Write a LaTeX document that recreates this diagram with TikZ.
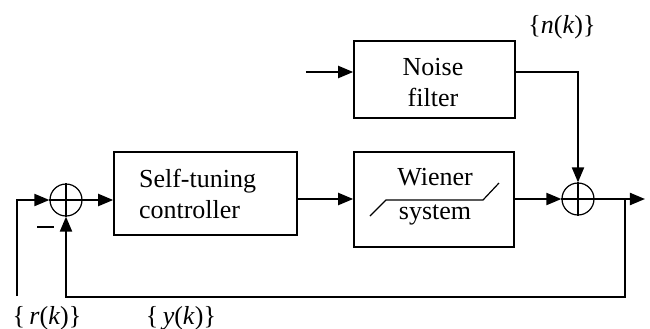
\documentclass[tikz,border=0pt]{standalone}
\usepackage{fontspec}
\setmainfont{Liberation Serif}
\usetikzlibrary{arrows.meta,positioning}

\begin{document}
\begin{tikzpicture}[x=0.5pt, y=-0.5pt, >={Triangle[length=7.5pt,width=6pt]},
  font=\fontsize{13}{15.5}\selectfont,
  block/.style={rectangle, draw, line width=0.8pt, inner sep=0pt},
  sum/.style={circle, draw, line width=0.6pt, minimum size=16pt, inner sep=0pt},
  sig/.style={line width=1pt}]
  \useasboundingbox (0,0) rectangle (650,328);
  % blocks
  \node[block, minimum width=91.5pt, minimum height=41.5pt] (CTRL) at (205.5,193.5) {};
  \node[anchor=west, align=left] (CTRLTXT) at (132,194) {Self-tuning\\controller};
  \node[block, minimum width=80pt, minimum height=47.5pt] (WIEN) at (434,199.5) {};
  \node[align=center] (WIENTXT) at (435,197) {Wiener\\[1.5pt]system};
  \node[block, minimum width=80.5pt, minimum height=38.5pt] (NOISE) at (434.5,79.5) {};
  \node[align=center] (NOISETXT) at (433,83) {Noise\\filter};
  \node[sum] (S1) at (66,200) {};
  \node[sum] (S2) at (578,199) {};
  \draw[line width=0.6pt] (S1.north) -- (S1.south) (S1.west) -- (S1.east);
  \draw[line width=0.6pt] (S2.north) -- (S2.south) (S2.west) -- (S2.east);
  % nonlinearity
  \draw[line width=0.6pt] (370,216) -- (386,200) -- (483,200) -- (499,183);
  % free ends
  \coordinate (RIN) at (17,296);
  \coordinate (NIN) at (306,72);
  \coordinate (OUT) at (645,199);
  \coordinate (TAP) at (625,199);
  \coordinate (FB) at (625,297);
  % signals
  \draw[sig,->] (RIN) |- (S1.west);
  \draw[sig,->] (S1.east) -- (CTRL.west |- S1.east);
  \draw[sig,->] (CTRL.east |- 0,199) -- (WIEN.west |- 0,199);
  \draw[sig,->] (WIEN.east |- S2.west) -- (S2.west);
  \draw[sig,->] (S2.east) -- (OUT);
  \draw[sig,->] (NIN) -- (NOISE.west |- NIN);
  \draw[sig,->] (NOISE.east |- NIN) -| (S2.north);
  \draw[sig,->] (TAP) -- (FB) -| (S1.south);
  % labels
  \node (MINUS) at (46,227) {\rule{8.5pt}{0.8pt}};
  \node (RK) at (47,318) {\{\,\textit{r}(\textit{k})\}};
  \node (YK) at (181,318) {\{\,\textit{y}(\textit{k})\}};
  \node (NK) at (562,27) {\{\textit{n}(\textit{k})\}};
\end{tikzpicture}
\end{document}
